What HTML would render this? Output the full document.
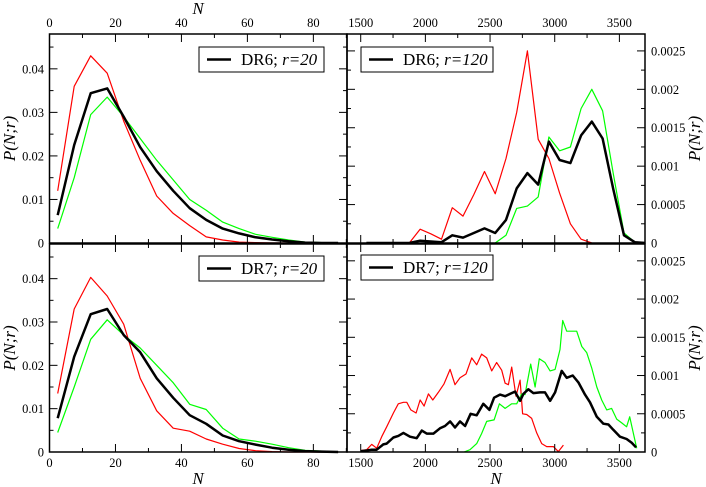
<!DOCTYPE html>
<html><head><meta charset="utf-8"><style>
body{margin:0;background:#fff}
svg{display:block;font-family:"Liberation Serif",serif}
svg text{font-family:"Liberation Serif",serif}
</style></head><body>
<svg id="c" width="706" height="487" xmlns="http://www.w3.org/2000/svg"></svg>
<script>
// ---- data ----
const binsSmall=[2.5,7.5,12.5,17.5,22.5,27.5,32.5,37.5,42.5,47.5,52.5,57.5,62.5,67.5,72.5,77.5,82.5,87.5];
const dr6r20Black=[0.0064,0.0225,0.0344,0.0355,0.029,0.022,0.0165,0.012,0.008,0.0053,0.0033,0.0022,0.0013,0.0008,0.0004,0.0001,0,0];
const dr6r20Red=[0.012,0.036,0.043,0.039,0.028,0.019,0.0108,0.0068,0.004,0.0014,0.0007,0.0002,0.0001,0,0,0,0,0];
const dr6r20Green=[0.0033,0.015,0.0295,0.0335,0.029,0.024,0.019,0.0145,0.010,0.0075,0.0048,0.0033,0.002,0.0013,0.0007,0.0002,0.0001,0];
const dr7r20Black=[0.0078,0.022,0.0318,0.033,0.027,0.023,0.017,0.0125,0.0085,0.0065,0.0038,0.0025,0.0017,0.001,0.0005,0.0002,0.0001,0];
const dr7r20Red=[0.0135,0.033,0.0403,0.036,0.0295,0.017,0.0095,0.0055,0.0048,0.003,0.0018,0.0008,0.0003,0.0001,0,0,0,0];
const dr7r20Green=[0.0045,0.015,0.026,0.0305,0.027,0.024,0.020,0.016,0.011,0.0098,0.0055,0.003,0.0025,0.0018,0.001,0.0004,0.0002,0];
const binsLarge=[1544,1627,1710,1793,1876,1959,2042,2125,2208,2291,2374,2457,2540,2623,2706,2789,2872,2955,3038,3121,3204,3287,3370,3453,3536,3619,3702];
const dr6r120Black=[0,0,0,0,0,0.00003,0.00002,0.00001,0.0001,0.00007,0.00013,0.00019,0.00013,0.0003,0.00071,0.00091,0.00076,0.00132,0.00108,0.00104,0.0014,0.00158,0.00136,0.0007,0.0001,0.00001,0];
const dr6r120Red=[0,0,0,0,0,0.00018,0.00012,0.00005,0.00046,0.00035,0.00063,0.00093,0.00064,0.0011,0.0017,0.0025,0.00135,0.0011,0.00065,0.00025,0.00005,0,null,null,null,null,null];
const dr6r120Green=[null,null,null,null,null,null,null,null,null,null,null,null,0,0.0001,0.00045,0.00048,0.0006,0.00138,0.0012,0.00125,0.00175,0.002,0.00172,0.0009,0.00013,0.00001,0];
const dr7r120RedN=[1500,1546,1585,1624,1662,1701,1753,1791,1830,1856,1887,1928,1959,1990,2023,2057,2100,2144,2191,2229,2268,2314,2358,2397,2435,2474,2513,2551,2590,2616,2642,2667,2701,2732,2752,2783,2822,2861,2899,2938,2990,3028,3067];
const dr7r120Red=[0.2,0.3,1.0,0.5,2.0,3.3,5.1,6.3,6.5,6.5,5.5,5.1,6.8,6.0,7.6,6.8,7.8,8.9,10.8,8.8,9.7,10.2,12.3,11.4,12.8,12.3,10.6,11.7,10.7,9.0,8.8,11.1,7.3,9.4,5.0,4.9,4.4,2.5,1.1,0.7,0.7,0.05,0.9];
const dr7r120BlackN=[1500,1546,1585,1624,1675,1701,1753,1791,1830,1881,1933,1972,2010,2062,2113,2152,2191,2229,2268,2307,2350,2397,2448,2495,2531,2577,2616,2654,2693,2732,2758,2796,2835,2886,2925,2964,3003,3054,3093,3139,3183,3234,3273,3325,3376,3415,3453,3505,3556,3595,3629];
const dr7r120Black=[0.1,0.2,0.3,0.3,1.0,1.1,1.9,2.1,2.5,2.0,1.8,2.8,2.4,2.4,3.1,3.4,4.0,3.2,4.0,3.4,5.0,4.8,6.3,5.5,7.1,7.5,7.3,7.6,7.9,6.7,7.6,8.2,7.7,7.8,7.8,6.7,7.8,10.6,9.7,10.0,9.1,7.5,6.5,4.6,3.7,3.6,2.9,2.0,1.7,1.2,0.6];
const dr7r120GreenN=[2299,2345,2397,2435,2474,2531,2572,2616,2667,2706,2745,2770,2814,2848,2881,2925,2964,3003,3041,3062,3093,3131,3170,3209,3247,3286,3325,3363,3402,3440,3479,3518,3556,3580,3610,3634];
const dr7r120Green=[0,0.3,1.1,2.4,4.0,4.2,6.3,5.7,6.3,6.3,7.6,7.5,11.5,8.5,12.2,11.7,10.6,10.8,13.4,17.2,15.8,15.8,15.8,13.8,13.0,11.0,8.5,6.8,5.5,5.7,4.3,3.8,3.3,4.6,2.3,0.5];
const leftTicks=[0,20,40,60,80];
const leftYTicks=[0,0.01,0.02,0.03,0.04];
const rightTicks=[1500,2000,2500,3000,3500];
const rightYTicks=[0,0.0005,0.001,0.0015,0.002,0.0025];
const rightYLabels=["0","0.0005","0.001","0.0015","0.002","0.0025"];

const NS="http://www.w3.org/2000/svg";
const svg=document.getElementById('c');
function mk(tag,attrs,parent){const e=document.createElementNS(NS,tag);for(const k in attrs)e.setAttribute(k,attrs[k]);(parent||svg).appendChild(e);return e;}
const L={x0:49.5,x1:347,xmin:0,xmax:90.2,ymax:0.048};
const R={x0:347,x1:645,xmin:1394,xmax:3698,ymax:0.00272};
const rows=[{y0:34,y1:243},{y0:244,y1:452}];
function sx(p,v){return p.x0+(v-p.xmin)/(p.xmax-p.xmin)*(p.x1-p.x0);}
function sy(p,r,v){return r.y1-v/p.ymax*(r.y1-r.y0);}
function line(p,r,xs,ys,color,w,name,scale){
  const pts=[];
  for(let i=0;i<xs.length;i++){if(ys[i]==null)continue;const v=ys[i]*(scale||1);pts.push(sx(p,xs[i]).toFixed(1)+','+sy(p,r,v).toFixed(1));}
  const e=mk('polyline',{points:pts.join(' '),fill:'none',stroke:color,'stroke-width':w,'stroke-linejoin':'round'});
  
  
}
function frame(p,r,xt,xminor,yt,yminor,side,name){
  const g=mk('g',{});
  
  
  for(let v=Math.ceil(p.xmin/xminor)*xminor;v<=p.xmax;v+=xminor){
    const major=Math.abs(v/xt-Math.round(v/xt))<1e-6;const len=major?8:4;const x=sx(p,v);
    mk('line',{x1:x,x2:x,y1:r.y0,y2:r.y0+len,stroke:'#000','stroke-width':1},g);
    mk('line',{x1:x,x2:x,y1:r.y1,y2:r.y1-len,stroke:'#000','stroke-width':1},g);
  }
  for(let v=0;v<=p.ymax+1e-12;v+=yminor){
    const major=Math.abs(v/yt-Math.round(v/yt))<1e-6;const len=major?8:4;const y=sy(p,r,v);
    mk('line',{x1:p.x0,x2:p.x0+len,y1:y,y2:y,stroke:'#000','stroke-width':1},g);
    mk('line',{x1:p.x1,x2:p.x1-len,y1:y,y2:y,stroke:'#000','stroke-width':1},g);
  }
  mk('rect',{x:p.x0,y:r.y0,width:p.x1-p.x0,height:r.y1-r.y0,fill:'none',stroke:'#000','stroke-width':1.5},g);
}
function text(x,y,s,opts,name){const e=mk('text',Object.assign({x:x,y:y,'font-size':12.5,'font-family':'Liberation Serif, serif'},opts||{}));e.textContent=s;return e;}
function legend(x,y,w,label,ital,name){
  const g=mk('g',{});
  
  
  mk('rect',{x:x,y:y,width:w,height:25,fill:'#fff',stroke:'#000','stroke-width':1},g);
  mk('line',{x1:x+8,x2:x+32,y1:y+12.5,y2:y+12.5,stroke:'#000','stroke-width':2.5},g);
  const t=mk('text',{x:x+42,y:y+18,'font-size':17,'font-family':'Liberation Serif, serif'},g);
  t.appendChild(document.createTextNode(label));
  const ts=mk('tspan',{'font-style':'italic'},t);ts.textContent=ital;
}
// panels
const series=[
 [L,rows[0],binsSmall,[dr6r20Red,dr6r20Green,dr6r20Black],'dr6-r20'],
 [L,rows[1],binsSmall,[dr7r20Red,dr7r20Green,dr7r20Black],'dr7-r20'],
 [R,rows[0],binsLarge,[dr6r120Red,dr6r120Green,dr6r120Black],'dr6-r120']];
for(const [p,r,xs,ss,n] of series){
  line(p,r,xs,ss[0],'#ff0000',1.2,n+'-red-line');
  line(p,r,xs,ss[1],'#00ff00',1.2,n+'-green-line');
  line(p,r,xs,ss[2],'#000',2.5,n+'-black-line');
}
line(R,rows[1],dr7r120RedN,dr7r120Red,'#ff0000',1.2,'dr7-r120-red-line',1e-4);
line(R,rows[1],dr7r120GreenN,dr7r120Green,'#00ff00',1.2,'dr7-r120-green-line',1e-4);
line(R,rows[1],dr7r120BlackN,dr7r120Black,'#000',2.5,'dr7-r120-black-line',1e-4);
frame(L,rows[0],20,10,0.01,0.005,'l','panel-dr6-r20-frame');
frame(L,rows[1],20,10,0.01,0.005,'l','panel-dr7-r20-frame');
frame(R,rows[0],500,250,0.0005,0.00025,'r','panel-dr6-r120-frame');
frame(R,rows[1],500,250,0.0005,0.00025,'r','panel-dr7-r120-frame');
// tick labels
for(const v of leftTicks){text(sx(L,v),27,String(v),{'text-anchor':'middle'},'top-x-tick-label');text(sx(L,v),467,String(v),{'text-anchor':'middle'},'bottom-x-tick-label');}
for(const v of rightTicks){text(sx(R,v),27,String(v),{'text-anchor':'middle'},'top-x-tick-label');text(sx(R,v),467,String(v),{'text-anchor':'middle'},'bottom-x-tick-label');}
for(const r of rows){
  for(const v of leftYTicks){text(44,sy(L,r,v)+4.5,v===0?'0':String(v),{'text-anchor':'end'},'left-y-tick-label');}
  rightYTicks.forEach((v,i)=>{text(651,sy(R,r,v)+4.5,rightYLabels[i],{},'right-y-tick-label');});
}
// axis titles
text(198,14,'N',{'font-size':17,'font-style':'italic','text-anchor':'middle'},'top-x-axis-title');
text(198,484,'N',{'font-size':17,'font-style':'italic','text-anchor':'middle'},'bottom-left-x-axis-title');
text(496,484,'N',{'font-size':17,'font-style':'italic','text-anchor':'middle'},'bottom-right-x-axis-title');
for(const r of rows){
  const c=(r.y0+r.y1)/2;
  text(0,0,'P(N;r)',{'font-size':17,'font-style':'italic','text-anchor':'middle',transform:`translate(15,${c}) rotate(-90)`},'left-y-axis-title');
  text(0,0,'P(N;r)',{'font-size':17,'font-style':'italic','text-anchor':'middle',transform:`translate(700,${c}) rotate(-90)`},'right-y-axis-title');
}
legend(199,47,125,'DR6; ','r=20','legend-dr6-r20');
legend(199,256,125,'DR7; ','r=20','legend-dr7-r20');
legend(361,47,132,'DR6; ','r=120','legend-dr6-r120');
legend(361,255,132,'DR7; ','r=120','legend-dr7-r120');
</script>
</body></html>
